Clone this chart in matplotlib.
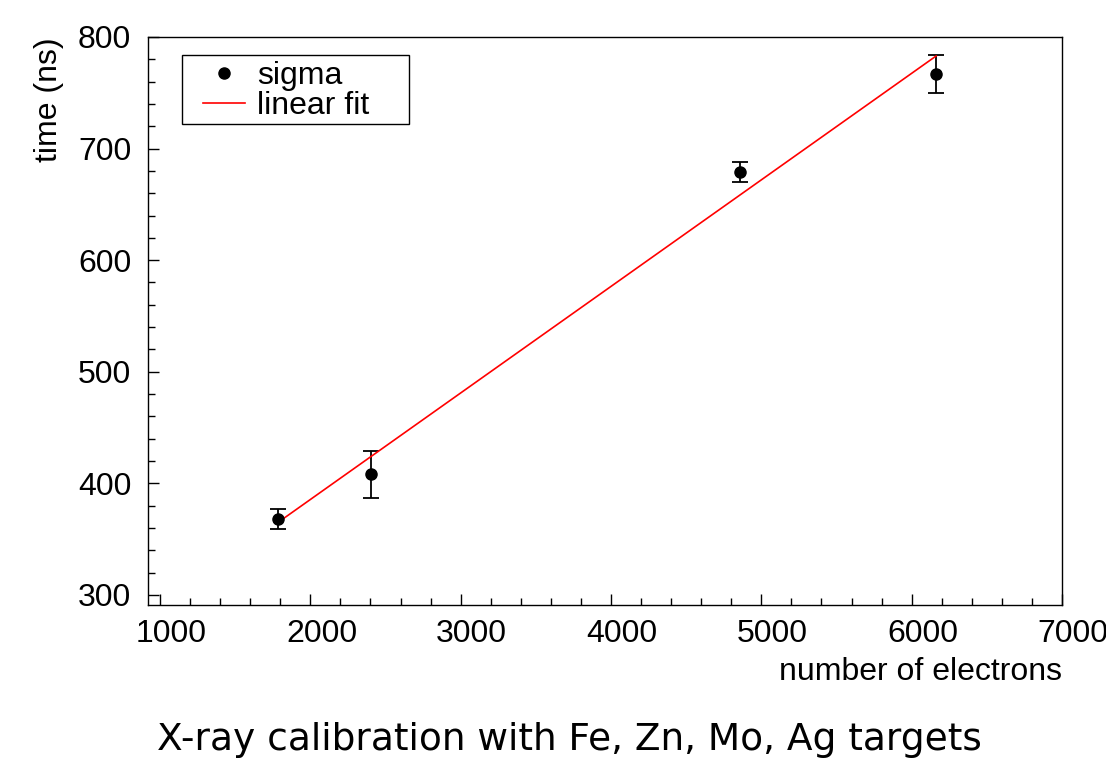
import numpy as np
import matplotlib
matplotlib.use("Agg")
import matplotlib.pyplot as plt
from matplotlib.ticker import MultipleLocator
from matplotlib.lines import Line2D
from matplotlib.patches import Rectangle
import matplotlib.transforms as mtrans

# measured points (sigma) with errors
electrons = [1785, 2402, 4859, 6163]
sigma = [368, 408, 679, 767]
sigma_err = [9, 21, 9, 17]

# linear fit end points
fit_x = [1785, 6163]
fit_y = [365, 783]

plt.rcParams['font.family'] = ['Liberation Sans', 'DejaVu Sans']
fs = 23

fig = plt.figure(figsize=(11.06, 7.61), dpi=100)
ax = fig.add_axes([0.1338, 0.205, 0.8264, 0.7464])

ax.errorbar(electrons, sigma, yerr=sigma_err, fmt='o', color='black',
            markersize=8, capsize=6, elinewidth=1.3, capthick=1.3)
ax.plot(fit_x, fit_y, color='red', linewidth=1.2)

ax.set_xlim(920, 7000)
ax.set_ylim(291, 800)
ax.xaxis.set_major_locator(MultipleLocator(1000))
ax.xaxis.set_minor_locator(MultipleLocator(200))
ax.yaxis.set_major_locator(MultipleLocator(100))
ax.yaxis.set_minor_locator(MultipleLocator(20))
ax.tick_params(which='both', direction='in', labelsize=fs, width=1,
               top=False, right=False)
ax.tick_params(which='major', length=8)
ax.tick_params(axis='x', which='major', pad=10)
ax.tick_params(axis='y', which='major', pad=12)
ax.tick_params(which='minor', length=5)
for s in ax.spines.values():
    s.set_linewidth(1)

# x tick labels sit a little right of their ticks in the original
shift = mtrans.ScaledTranslation(8 / 72, 0, fig.dpi_scale_trans)
for lab in ax.get_xticklabels():
    lab.set_transform(lab.get_transform() + shift)

ax.set_xlabel('number of electrons', fontsize=fs, loc='right', labelpad=6)
ax.set_ylabel('time (ns)', fontsize=fs, loc='top', labelpad=10)

# legend: box drawn separately so its padding can match
ax.add_patch(Rectangle((0.0372, 0.8468), 0.2484, 0.1215,
                       transform=ax.transAxes, facecolor='white',
                       edgecolor='black', linewidth=1, zorder=4))
handles = [Line2D([], [], marker='o', linestyle='none', color='black',
                  markersize=8),
           Line2D([], [], color='red', linewidth=1.2)]
leg = ax.legend(handles, ['sigma', 'linear fit'], loc='upper left',
                bbox_to_anchor=(0.0602, 0.958), borderaxespad=0,
                borderpad=0, fontsize=fs, frameon=False, handlelength=1.3,
                handletextpad=0.4, labelspacing=0.02)
leg.set_zorder(5)

fig.text(0.515, 0.015, 'X-ray calibration with Fe, Zn, Mo, Ag targets',
         ha='center', va='baseline', fontsize=27, family='DejaVu Sans')

fig.savefig('out.png', dpi=100)
